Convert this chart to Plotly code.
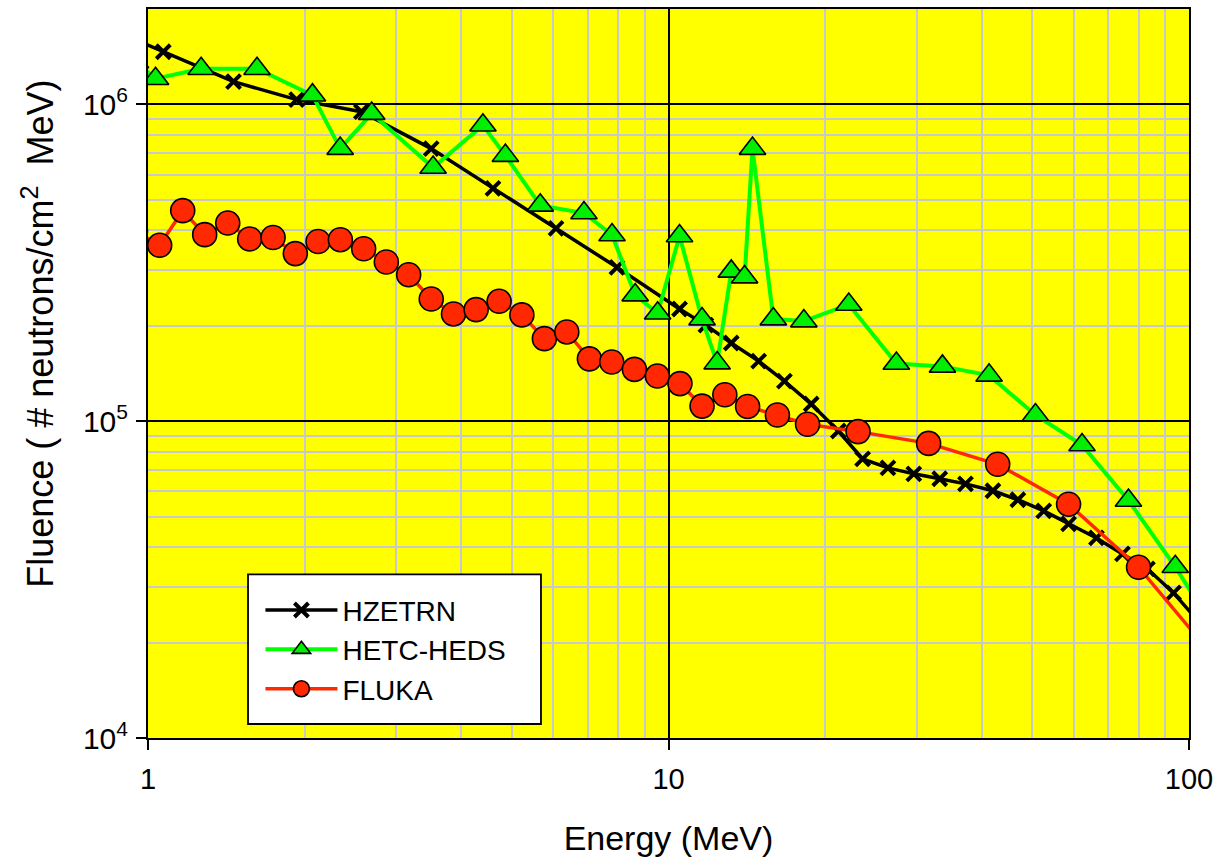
import plotly.graph_objects as go

# Neutron fluence spectra (energy in MeV, fluence in neutrons / cm^2 MeV)
hz_energy = [0.946, 1.07, 1.46, 1.93, 2.57, 3.50, 4.60, 6.08, 7.96, 10.5, 11.8,
             13.2, 14.9, 16.7, 18.8, 21.2, 23.6, 26.4, 29.6, 33.2, 37.2, 42.0,
             46.9, 52.6, 58.7, 66.4, 74.5, 83.2, 93.4, 105.0]
hz_fluence = [1.60e6, 1.466e6, 1.179e6, 1.035e6, 9.48e5, 7.25e5, 5.43e5, 4.06e5,
              3.06e5, 2.26e5, 2.01e5, 1.765e5, 1.547e5, 1.338e5, 1.133e5, 9.31e4,
              7.60e4, 7.12e4, 6.82e4, 6.58e4, 6.34e4, 6.03e4, 5.65e4, 5.21e4,
              4.74e4, 4.28e4, 3.81e4, 3.42e4, 2.87e4, 2.30e4]

he_energy = [0.946, 1.034, 1.265, 1.62, 2.07, 2.34, 2.69, 3.53, 4.40, 4.86, 5.67,
             6.88, 7.79, 8.63, 9.53, 10.5, 11.6, 12.4, 13.2, 14.0, 14.5, 15.9,
             18.2, 22.2, 27.4, 33.6, 41.3, 50.7, 62.3, 76.5, 94.1, 115.5]
he_fluence = [1.36e6, 1.205e6, 1.296e6, 1.296e6, 1.069e6, 7.25e5, 9.35e5, 6.32e5,
              8.59e5, 6.89e5, 4.80e5, 4.54e5, 3.87e5, 2.50e5, 2.19e5, 3.84e5,
              2.10e5, 1.525e5, 2.97e5, 2.85e5, 7.25e5, 2.10e5, 2.07e5, 2.335e5,
              1.52e5, 1.489e5, 1.395e5, 1.046e5, 8.41e4, 5.62e4, 3.47e4, 2.03e4]

fl_energy = [0.946, 1.053, 1.166, 1.285, 1.423, 1.568, 1.739, 1.919, 2.122, 2.342,
             2.596, 2.870, 3.168, 3.501, 3.863, 4.270, 4.727, 5.227, 5.775, 6.377,
             7.047, 7.78, 8.60, 9.52, 10.52, 11.60, 12.83, 14.19, 16.19, 18.50,
             23.13, 31.6, 42.9, 58.7, 80.0, 109.5]
fl_fluence = [3.98e5, 3.59e5, 4.62e5, 3.88e5, 4.22e5, 3.76e5, 3.80e5, 3.38e5,
              3.69e5, 3.74e5, 3.50e5, 3.18e5, 2.90e5, 2.43e5, 2.18e5, 2.25e5,
              2.39e5, 2.165e5, 1.822e5, 1.913e5, 1.573e5, 1.537e5, 1.457e5,
              1.388e5, 1.314e5, 1.116e5, 1.212e5, 1.113e5, 1.046e5, 9.78e4,
              9.27e4, 8.51e4, 7.31e4, 5.47e4, 3.46e4, 1.87e4]

x_ticks = [1, 10, 100]
x_tick_text = ["1", "10", "100"]
y_ticks = [1e4, 1e5, 1e6]
y_tick_text = ["10<sup>4</sup>", "10<sup>5</sup>", "10<sup>6</sup>"]

FONT = "Liberation Sans, Arial, sans-serif"

fig = go.Figure()

fig.add_trace(go.Scatter(
    x=hz_energy, y=hz_fluence, name="HZETRN", mode="lines+markers",
    line=dict(color="black", width=3.5),
    marker=dict(symbol="x-thin", size=14, color="black",
                line=dict(color="black", width=4)),
))
fig.add_trace(go.Scatter(
    x=he_energy, y=he_fluence, name="HETC-HEDS", mode="lines+markers",
    line=dict(color="#00FF00", width=4),
    marker=dict(symbol="triangle-up", size=23, color="#00EE00",
                line=dict(color="black", width=1.6)),
))
fig.add_trace(go.Scatter(
    x=fl_energy, y=fl_fluence, name="FLUKA", mode="lines+markers",
    line=dict(color="#FF2800", width=3.5),
    marker=dict(symbol="circle", size=24, color="#FF2800",
                line=dict(color="black", width=1.6)),
))

axis_common = dict(
    type="log",
    showline=True, linecolor="black", linewidth=2, mirror=True,
    ticks="outside", ticklen=10, tickwidth=2, tickcolor="black",
    showgrid=True, gridcolor="black", gridwidth=1.5,
    minor=dict(tickmode="linear", dtick="D1", showgrid=True,
               gridcolor="#C8C8C8", gridwidth=1.5, ticks=""),
    zeroline=False,
)

fig.update_xaxes(
    **axis_common,
    range=[0, 2],
    tickmode="array", tickvals=x_ticks, ticktext=x_tick_text,
    tickfont=dict(family=FONT, size=29, color="black"),
    ticklabelstandoff=4,
    title=dict(text="Energy (MeV)", font=dict(family=FONT, size=34, color="black"),
               standoff=32),
)
fig.update_yaxes(
    **axis_common,
    range=[4, 6.301],
    tickmode="array", tickvals=y_ticks, ticktext=y_tick_text,
    tickfont=dict(family=FONT, size=30, color="black"),
    ticklabelstandoff=2,
)

# Y-axis title placed as a rotated annotation
fig.add_annotation(
    text="Fluence ( # neutrons/cm<sup>2</sup>  MeV)",
    xref="paper", yref="paper", x=-0.106, y=0.554,
    xanchor="center", yanchor="middle", textangle=-90, showarrow=False,
    font=dict(family=FONT, size=36, color="black"),
)

# Legend frame
fig.add_shape(
    type="rect", xref="paper", yref="paper",
    x0=0.0961, x1=0.3775, y0=0.0192, y1=0.2244,
    fillcolor="white", line=dict(color="black", width=1.8), layer="above",
)

fig.update_layout(
    width=1225, height=867,
    margin=dict(l=148, r=36, t=7, b=129),
    paper_bgcolor="white", plot_bgcolor="#FFFF00",
    font=dict(family=FONT, color="black"),
    showlegend=True,
    legend=dict(
        x=0.108, y=0.2095, xanchor="left", yanchor="top",
        bgcolor="rgba(0,0,0,0)", borderwidth=0,
        font=dict(family=FONT, size=28, color="black"),
        itemwidth=72, tracegroupgap=0,
    ),
)

fig.write_html("out.html")
